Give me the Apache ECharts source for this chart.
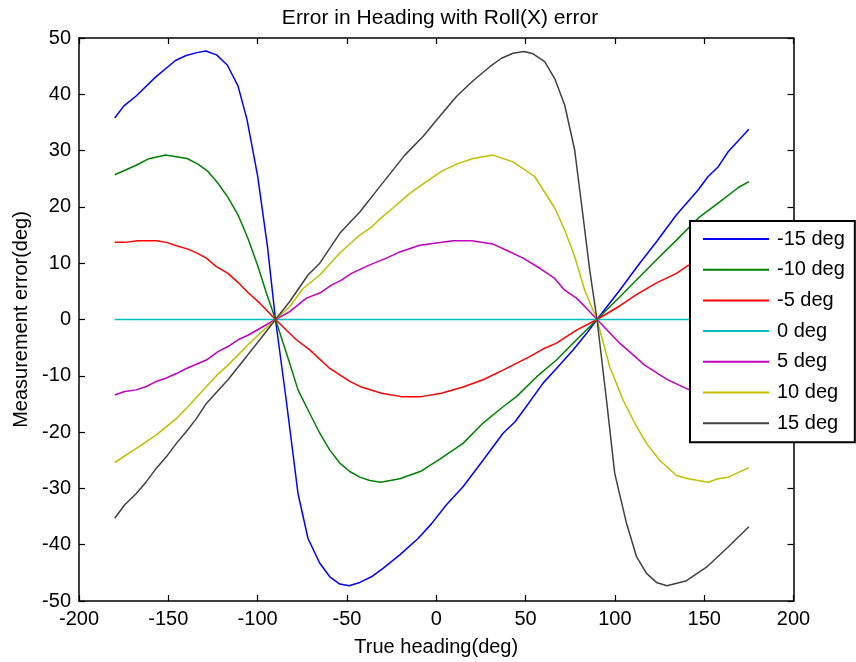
<!DOCTYPE html>
<html>
<head>
<meta charset="utf-8">
<script src="https://cdn.jsdelivr.net/npm/echarts@6/dist/echarts.min.js"></script>
<style>html,body{margin:0;padding:0;background:#fff}#c{width:856px;height:662px}</style>
</head>
<body>
<div id="c"></div>
<script>
var seriesNames = ['-15 deg','-10 deg','-5 deg','0 deg','5 deg','10 deg','15 deg'];
var seriesColors = ['#0000ff','#008000','#ff0000','#00bfbf','#bf00bf','#bfbf00','#404040'];

var xM15 = [-180,-175,-168,-157,-146,-140,-134,-129,-123,-117,-111,-106,-100,-94.5,-90,-84,-77.4,-71.8,-65.2,-59.6,-54,-48.8,-42.8,-36.3,-29.8,-20.4,-10.2,-2.7,5.7,15,26.2,37.4,44,49.6,59.8,67.3,76.6,84.1,90,102.7,113.9,123.3,134.5,146.6,152.2,157.8,163.4,175];
var yM15 = [35.8,37.9,39.7,43.1,46.0,46.9,47.4,47.7,47.0,45.2,41.5,35.6,25.5,13.0,0,-14.3,-30.9,-38.9,-43.3,-45.7,-47.0,-47.3,-46.7,-45.7,-44.2,-41.8,-38.9,-36.3,-32.9,-29.7,-25.0,-20.2,-18.2,-15.8,-11.3,-8.7,-5.4,-2.5,0,5.2,10.0,13.8,18.6,23.0,25.4,27.1,29.8,33.8];

var xM10 = [-180,-168,-161.4,-151.5,-145.5,-139.5,-133.4,-127.8,-122.2,-116.6,-111,-105.4,-99.8,-95.1,-90,-82,-77.4,-70.8,-65.2,-59.6,-54,-48.4,-42.8,-37.2,-31.2,-20.4,-8.3,2,15,26.2,37.4,44.9,56.1,67.3,78.5,90,102.7,112.1,123.3,134.5,146.6,158.7,169,175];
var yM10 = [25.7,27.4,28.5,29.2,28.9,28.6,27.6,26.3,24.2,21.7,18.6,14.4,9.4,4.7,0,-7.8,-12.5,-16.7,-20.2,-23.2,-25.5,-27.0,-28.0,-28.6,-28.9,-28.3,-26.9,-24.8,-22.0,-18.4,-15.5,-13.7,-10.2,-7.2,-3.6,0,4.0,7.0,10.6,14.1,18.0,20.9,23.4,24.5];

var xM5 = [-180,-174.4,-167,-156.7,-151.1,-145.5,-139,-133.9,-128.7,-123.1,-116.6,-111,-105.4,-98.8,-90,-83.9,-78.3,-70.8,-59.6,-48.4,-41.9,-30.7,-19.5,-8.3,2.9,15,26.2,37.4,52.3,60.7,67.3,78.5,90,102.7,112.1,123.3,134.5,141,152,163,175];
var yM5 = [13.7,13.7,14.0,14.0,13.7,13.1,12.5,11.8,10.9,9.4,8.2,6.6,4.8,2.9,0,-1.9,-3.6,-5.4,-8.7,-11.0,-12.0,-13.1,-13.7,-13.7,-13.1,-12.0,-10.7,-9.0,-6.6,-5.1,-4.2,-1.9,0,2.4,4.4,6.5,8.2,9.6,11.0,12.2,13.0];

var x0 = [-180,175];
var y0 = [0,0];

var xP5 = [-180,-174.4,-167.9,-162.3,-156.7,-151.1,-145.5,-139.9,-128.7,-122.2,-116.6,-111,-105.4,-98.8,-90,-82,-72.7,-65.2,-58.7,-53.1,-47.5,-37.2,-27.9,-20.4,-9.2,0.1,9.4,19.7,31.8,39.3,48.6,58,66.3,71.9,78.5,84.1,90,102.7,116.7,128.9,141,152,163,175];
var yP5 = [-13.4,-12.8,-12.5,-11.9,-11.0,-10.4,-9.6,-8.7,-7.2,-5.7,-4.8,-3.6,-2.8,-1.6,0,1.4,3.8,4.7,6.1,7.0,8.2,9.7,10.9,12.0,13.2,13.6,14.0,14.0,13.4,12.3,10.9,9.1,7.3,5.2,3.8,2.0,0,-4.2,-8.1,-10.6,-12.4,-13.3,-13.7,-13.6];

var xP10 = [-180,-167.9,-156.7,-145.5,-139,-128.7,-122.2,-116.6,-106.3,-98.8,-90,-82,-74.6,-65.2,-54,-42.8,-36.3,-30.7,-24.2,-14.8,-5.5,2.9,11.3,20.6,31.8,43,55.1,66.3,71.9,77.5,83.1,90,97.1,104.6,112.1,117.7,125.1,134.5,141,152.2,157.8,163.4,175];
var yP10 = [-25.4,-22.9,-20.5,-17.6,-15.5,-11.9,-9.7,-8.1,-4.8,-2.5,0,2.3,5.5,7.9,11.8,15.0,16.4,18.1,19.8,22.4,24.5,26.3,27.6,28.6,29.2,28.0,25.4,19.8,15.9,11.2,5.2,0,-8.4,-14.3,-19.0,-22.0,-25.0,-27.7,-28.3,-28.9,-28.3,-28.0,-26.3];

var xP15 = [-180,-174.4,-167.9,-162.3,-156.7,-151.1,-145.5,-139.9,-134.3,-128.7,-116.6,-106.3,-98.8,-90,-82,-71.8,-65.2,-54,-42.8,-31.6,-17.6,-7.4,0.1,11.3,20.6,30,36.5,43,49.2,54.2,60.7,66.3,71.9,77.5,82.2,85.9,90,95.3,99.9,106.5,112.1,117.7,123.3,129.2,140.1,151.3,163.4,175];
var yP15 = [-35.3,-32.9,-30.9,-28.8,-26.4,-24.4,-22.0,-19.9,-17.6,-14.9,-10.7,-6.6,-3.6,0,3.2,7.9,10.0,15.3,19.1,23.6,29.2,32.5,35.4,39.6,42.4,44.9,46.4,47.3,47.6,47.2,45.8,42.8,38.1,30.1,18.3,8.8,0,-14.3,-27.3,-36.2,-42.1,-45.1,-46.7,-47.3,-46.4,-44.0,-40.4,-36.8];

var xs = [xM15,xM10,xM5,x0,xP5,xP10,xP15];
var ys = [yM15,yM10,yM5,y0,yP5,yP10,yP15];

var FONT = '"Liberation Sans", Arial, Helvetica, sans-serif';
var chart = echarts.init(document.getElementById('c'), null, {renderer:'canvas'});

function zip(a,b){ var r=[]; for (var i=0;i<a.length;i++) r.push([a[i],b[i]]); return r; }

var series = seriesNames.map(function(n,i){
  return {
    name:n, type:'line', data: zip(xs[i], ys[i]), symbol:'none', showSymbol:false,
    smooth:false, animation:false, xAxisIndex:0, yAxisIndex:0,
    lineStyle:{color:seriesColors[i], width:1.5}, itemStyle:{color:seriesColors[i]}
  };
});

var axisCommonLine = {show:true, onZero:false, lineStyle:{color:'#000', width:1.5}};
var tickCommon = {show:true, inside:true, length:6, lineStyle:{color:'#000', width:1.2}};

chart.setOption({
  backgroundColor:'#fff',
  animation:false,
  title:{
    text:'Error in Heading with Roll(X) error', left:435, top:3, textAlign:'center',
    textStyle:{fontFamily:FONT, fontSize:21, fontWeight:'normal', color:'#000'}
  },
  grid:{left:79, right:62.5, top:38, bottom:61, containLabel:false},
  legend:{
    orient:'vertical', left:690, top:221, data:seriesNames,
    icon:'rect',
    backgroundColor:'#fff', borderColor:'#000', borderWidth:2,
    padding:[8,10,9,13], itemGap:10.7, itemWidth:66, itemHeight:2,
    textStyle:{fontFamily:FONT, fontSize:20, color:'#000', lineHeight:20, padding:[0,0,0,3]}
  },
  xAxis:[{
    type:'value', min:-200, max:200, interval:50, position:'bottom',
    name:'True heading(deg)', nameLocation:'middle', nameGap:36,
    nameTextStyle:{fontFamily:FONT, fontSize:20, color:'#000'},
    axisLine:axisCommonLine, axisTick:tickCommon,
    axisLabel:{fontFamily:FONT, fontSize:20, color:'#000', margin:8},
    splitLine:{show:false}
  },{
    type:'value', min:-200, max:200, interval:50, position:'top',
    axisLine:axisCommonLine, axisTick:tickCommon, axisLabel:{show:false}, splitLine:{show:false}
  }],
  yAxis:[{
    type:'value', min:-50, max:50, interval:10, position:'left',
    name:'Measurement error(deg)', nameLocation:'middle', nameGap:48,
    nameTextStyle:{fontFamily:FONT, fontSize:20, color:'#000'},
    axisLine:axisCommonLine, axisTick:tickCommon,
    axisLabel:{fontFamily:FONT, fontSize:20, color:'#000', margin:8},
    splitLine:{show:false}
  },{
    type:'value', min:-50, max:50, interval:10, position:'right',
    axisLine:axisCommonLine, axisTick:tickCommon, axisLabel:{show:false}, splitLine:{show:false}
  }],
  series:series
});
</script>
</body>
</html>
